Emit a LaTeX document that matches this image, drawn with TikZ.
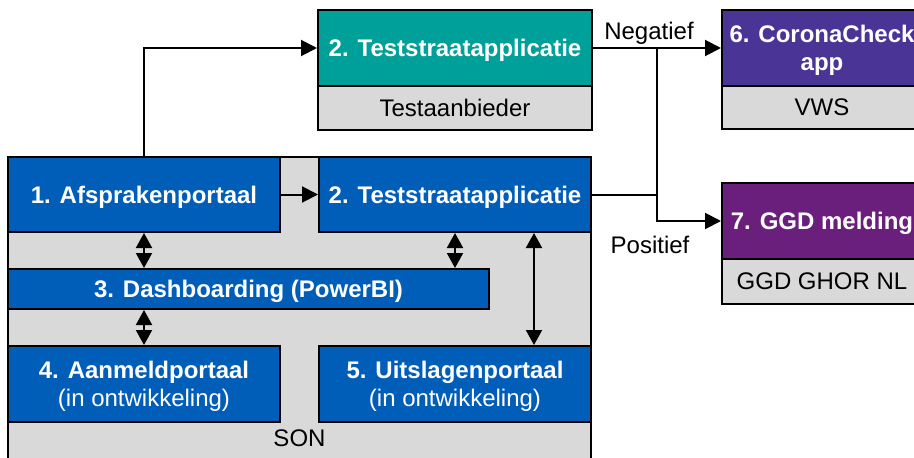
\documentclass[tikz,border=0pt]{standalone}
\usepackage{fontspec}
\setmainfont{Liberation Sans}
\usetikzlibrary{arrows.meta}
\definecolor{sonblue}{HTML}{005EB8}
\definecolor{tealc}{HTML}{00A09A}
\definecolor{purpsix}{HTML}{4A3597}
\definecolor{purpseven}{HTML}{6B1F7C}
\definecolor{greyc}{HTML}{D9D9D9}
\begin{document}
\begin{tikzpicture}[x=1pt,y=-1pt,
  box/.style={draw=black, line width=2pt, inner sep=0pt, align=center,
    font=\fontsize{24}{28.5}\selectfont},
  bluebox/.style={box, fill=sonblue, text=white, text depth=-1.5pt},
  headbox/.style={box, text=white, text depth=-1.5pt, font=\fontsize{24}{28.5}\selectfont\bfseries},
  subbox/.style={box, fill=greyc, text=black},
  lbl/.style={inner sep=0pt, font=\fontsize{24}{28.5}\selectfont},
  conn/.style={line width=2pt, draw=black},
  arr/.style={-{Triangle[length=16pt,width=16pt]}},
  dblarr/.style={{Triangle[length=15pt,width=16pt]}-{Triangle[length=15pt,width=16pt]}}
]
\useasboundingbox (0,0) rectangle (914,458);
\clip (0,0) rectangle (914,458);
% SON background
\node[box, fill=greyc, minimum width=583pt, minimum height=323pt] (son) at (299.5,318.5) {};
\node[lbl] (sonlbl) at (299.5,438) {SON};
% inner boxes
\node[bluebox, minimum width=272pt, minimum height=75pt] (a1) at (144,194.5) {\bfseries 1. Afsprakenportaal};
\node[bluebox, minimum width=272pt, minimum height=75pt] (t2) at (455,194.5) {\bfseries 2. Teststraatapplicatie};
\node[bluebox, minimum width=481pt, minimum height=40pt] (d3) at (248.5,289) {\bfseries 3. Dashboarding (PowerBI)};
\node[bluebox, minimum width=272pt, minimum height=76pt] (a4) at (144,384) {\textbf{4. Aanmeldportaal}\\(in ontwikkeling)};
\node[bluebox, minimum width=272pt, minimum height=76pt] (u5) at (455,384) {\textbf{5. Uitslagenportaal}\\(in ontwikkeling)};
% top teststraat
\node[headbox, fill=tealc, minimum width=274pt, minimum height=76pt] (tt) at (455,48) {2. Teststraatapplicatie};
\node[subbox, minimum width=274pt, minimum height=44pt] (ttsub) at (455,108) {Testaanbieder};
% CoronaCheck
\node[headbox, fill=purpsix, minimum width=200pt, minimum height=76pt] (c6) at (822,48) {6. CoronaCheck\\app};
\node[subbox, minimum width=200pt, minimum height=43pt] (c6sub) at (822,107.5) {VWS};
% GGD
\node[headbox, fill=purpseven, minimum width=200pt, minimum height=76pt] (g7) at (822,221) {7. GGD melding};
\node[subbox, minimum width=200pt, minimum height=45pt] (g7sub) at (822,281.5) {GGD GHOR NL};
% connectors
\draw[conn, arr] (a1.north) |- (tt.west);
\draw[conn, arr] (a1.east) -- (t2.west);
\draw[conn, arr] (tt.east) -- (c6.west);
\coordinate (j) at (657,194.5);
\draw[conn] (t2.east) -- (j);
\draw[conn, arr] (j |- tt.east) |- (g7.west);
\node[lbl] (neg) at (649,33) {Negatief};
\node[lbl] (pos) at (650,245) {Positief};
\draw[conn, dblarr] (a1.south) -- (a1.south |- d3.north);
\draw[conn, dblarr] (a4.north |- d3.south) -- (a4.north);
\draw[conn, dblarr] (t2.south) -- (t2.south |- d3.north);
\draw[conn, dblarr] ([xshift=79pt]t2.south) -- ([xshift=79pt]u5.north);
\end{tikzpicture}
\end{document}
